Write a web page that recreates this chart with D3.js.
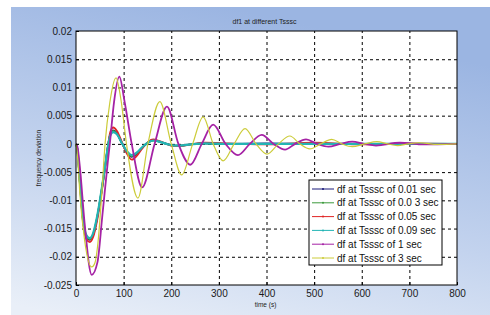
<!DOCTYPE html>
<html>
<head>
<meta charset="utf-8">
<script src="https://cdn.jsdelivr.net/npm/d3@7"></script>
<style>
  body { margin: 0; background: #fff; }
  svg { display: block; font-family: "Liberation Sans", Arial, sans-serif; }
</style>
</head>
<body>
<div class="container"></div>
<script>
// series labels, in legend order
const labels = [
    "df at Tsssc of 0.01 sec",
    "df at Tsssc of 0.0 3 sec",
    "df at Tsssc of 0.05 sec",
    "df at Tsssc of 0.09 sec",
    "df at Tsssc of 1 sec",
    "df at Tsssc of 3 sec"
];

// time samples (s) shared by the four short Tsssc curves
const tSmall = [0, 3, 8, 15, 22, 29, 36, 44, 54, 61, 66, 72, 78, 86, 96, 106, 117, 128, 140, 152, 162, 175, 190, 205, 220, 240, 270, 320, 400, 500, 600, 700, 800];
const vT001 = [0, -0.001, -0.0066, -0.0137, -0.0165, -0.0170, -0.0161, -0.0133, -0.0082, -0.0041, -0.001, 0.0017, 0.0024, 0.0019, 0.0002, -0.0014, -0.0023, -0.0017, -0.0006, 0.0003, 0.0007, 0.0004, 0, -0.0003, -0.0003, -0.0001, 0.0001, 0, 0.0001, 0, 0, 0, 0];
const vT003 = [0, -0.001, -0.0066, -0.0136, -0.0164, -0.0169, -0.0160, -0.0132, -0.0081, -0.0041, -0.001, 0.0016, 0.0023, 0.0018, 0.0002, -0.0013, -0.0022, -0.0016, -0.0006, 0.0003, 0.0006, 0.0004, 0, -0.0003, -0.0003, -0.0001, 0.0001, 0, 0, 0, 0, 0, 0];
const vT005 = [0, -0.001, -0.0068, -0.0140, -0.0169, -0.0174, -0.0165, -0.0137, -0.0085, -0.0043, -0.0011, 0.0021, 0.0029, 0.0023, 0.0004, -0.0016, -0.0028, -0.0021, -0.0007, 0.0004, 0.0008, 0.0005, 0, -0.0004, -0.0004, -0.0001, 0.0002, 0.0001, -0.0001, 0.0002, -0.0001, 0.0001, 0];
const vT009 = [0, -0.001, -0.0065, -0.0135, -0.0162, -0.0167, -0.0158, -0.0130, -0.0080, -0.0040, -0.001, 0.0015, 0.0021, 0.0017, 0.0002, -0.0012, -0.0020, -0.0015, -0.0005, 0.0003, 0.0006, 0.0004, 0, -0.0003, -0.0003, -0.0001, 0.0001, 0, 0, 0, 0, 0, 0];

// Tsssc = 1 sec
const tT1 = [0, 3, 8, 18, 33, 45, 55, 67, 71, 80, 91, 102, 117, 139, 165, 191, 215, 240, 264, 288, 314, 340, 365, 390, 415, 439, 460, 483, 506, 530, 555, 580, 605, 630, 680, 730, 800];
const vT1 = [0, -0.0005, -0.004, -0.014, -0.0232, -0.021, -0.013, -0.003, 0, 0.0075, 0.0119, 0.0075, 0, -0.0077, 0, 0.0066, 0, -0.0037, 0, 0.0034, 0, -0.002, 0, 0.0016, 0, -0.001, 0, 0.0008, 0, -0.0005, 0, 0.0004, 0, -0.0003, 0.0002, -0.0001, 0];

// Tsssc = 3 sec
const tT3 = [0, 4, 8, 18, 33, 40, 46, 54, 61, 71, 84, 95, 106, 130, 151, 176, 200, 222, 245, 267, 288, 309, 332, 355, 378, 401, 425, 449, 470, 491, 514, 537, 558, 580, 606, 632, 654, 675, 698, 720, 760, 800];
const vT3 = [0, -0.003, -0.0087, -0.017, -0.0218, -0.021, -0.0176, -0.009, 0, 0.0073, 0.0117, 0.0075, 0, -0.0096, 0, 0.0075, 0, -0.0055, 0, 0.0048, 0, -0.003, 0, 0.0027, 0, -0.0018, 0, 0.0014, 0, -0.0009, 0, 0.0008, 0, -0.0005, 0, 0.0004, 0, -0.0003, 0, 0.0002, -0.0001, 0];

// axis ticks
const xTicks = [0, 100, 200, 300, 400, 500, 600, 700, 800];
const yTicks = [-0.025, -0.02, -0.015, -0.01, -0.005, 0, 0.005, 0.01, 0.015, 0.02];

const colors = ["#1a1a7a", "#3c9a3c", "#e02424", "#22b4b4", "#a522a5", "#cccc3a"];
const widths = [1.8, 1.8, 1.8, 2.2, 1.8, 1.2];

const series = [
    { t: tSmall, v: vT001 },
    { t: tSmall, v: vT003 },
    { t: tSmall, v: vT005 },
    { t: tSmall, v: vT009 },
    { t: tT1, v: vT1 },
    { t: tT3, v: vT3 }
].map((s, i) => ({ label: labels[i], color: colors[i], width: widths[i], pts: s.t.map((t, j) => [t, s.v[j]]) }));

const w = 490;
const h = 315;
const m = { left: 76, right: 457, top: 31, bottom: 285 };

const svg = d3.select(".container")
    .append("svg")
    .attr("width", w)
    .attr("height", h);

// blue figure panel
const grad = svg.append("defs").append("linearGradient")
    .attr("id", "bg")
    .attr("x1", 0.45).attr("y1", 0)
    .attr("x2", 0.1).attr("y2", 1);
grad.append("stop").attr("offset", "0%").attr("stop-color", "#9bb5e2");
grad.append("stop").attr("offset", "55%").attr("stop-color", "#c3d3ee");
grad.append("stop").attr("offset", "100%").attr("stop-color", "#e9eff8");

svg.append("rect")
    .attr("x", 11).attr("y", 7)
    .attr("width", w - 11).attr("height", h - 7)
    .attr("fill", "url(#bg)");

svg.append("rect")
    .attr("x", m.left).attr("y", m.top)
    .attr("width", m.right - m.left).attr("height", m.bottom - m.top)
    .attr("fill", "#fff");

const x = d3.scaleLinear().domain([0, 800]).range([m.left, m.right]);
const y = d3.scaleLinear().domain([-0.025, 0.02]).range([m.bottom, m.top]);

// dashed grid
svg.append("g")
    .attr("transform", `translate(0, ${m.bottom})`)
    .call(d3.axisBottom(x).tickValues(xTicks.slice(1, -1)).tickSize(-(m.bottom - m.top)).tickFormat(""))
    .call(g => g.select(".domain").remove())
    .selectAll("line")
    .attr("stroke", "#000")
    .attr("stroke-dasharray", "3,3");

svg.append("g")
    .attr("transform", `translate(${m.left}, 0)`)
    .call(d3.axisLeft(y).tickValues(yTicks.slice(1, -1)).tickSize(-(m.right - m.left)).tickFormat(""))
    .call(g => g.select(".domain").remove())
    .selectAll("line")
    .attr("stroke", "#000")
    .attr("stroke-dasharray", "3,3");

// curves
const line = d3.line()
    .x(d => x(d[0]))
    .y(d => y(d[1]))
    .curve(d3.curveMonotoneX);

svg.append("g")
    .selectAll("path")
    .data(series)
    .enter()
    .append("path")
    .attr("d", d => line(d.pts))
    .attr("fill", "none")
    .attr("stroke", d => d.color)
    .attr("stroke-width", d => d.width)
    .attr("stroke-linejoin", "round");

// axes with inward ticks
const xAxis = svg.append("g")
    .attr("transform", `translate(0, ${m.bottom})`)
    .call(d3.axisBottom(x).tickValues(xTicks).tickSize(-3).tickPadding(5).tickFormat(d3.format("d")));

const yAxis = svg.append("g")
    .attr("transform", `translate(${m.left}, 0)`)
    .call(d3.axisLeft(y).tickValues(yTicks).tickSize(-3).tickPadding(4).tickFormat(d => d === 0 ? "0" : String(d)));

[xAxis, yAxis].forEach(g => {
    g.select(".domain").remove();
    g.selectAll("text").attr("font-size", 10).attr("fill", "#1a1a1a").attr("font-family", "Liberation Sans, Arial, sans-serif");
});

svg.append("rect")
    .attr("x", m.left).attr("y", m.top)
    .attr("width", m.right - m.left).attr("height", m.bottom - m.top)
    .attr("fill", "none")
    .attr("stroke", "#000");

// title and axis labels
svg.append("text")
    .attr("x", (m.left + m.right) / 2 - 2).attr("y", 24)
    .attr("text-anchor", "middle")
    .attr("font-size", 7)
    .attr("fill", "#222")
    .text("df1 at different Tsssc");

svg.append("text")
    .attr("x", (m.left + m.right) / 2 - 1).attr("y", 307)
    .attr("text-anchor", "middle")
    .attr("font-size", 6.5)
    .attr("fill", "#222")
    .text("time (s)");

svg.append("text")
    .attr("transform", `translate(41, ${(m.top + m.bottom) / 2}) rotate(-90)`)
    .attr("text-anchor", "middle")
    .attr("font-size", 6.5)
    .attr("fill", "#222")
    .text("frequency deviation");

// legend
const legend = svg.append("g").attr("transform", "translate(309, 180)");
legend.append("rect")
    .attr("width", 133).attr("height", 85)
    .attr("fill", "#fff")
    .attr("stroke", "#000");

const item = legend.selectAll(".item")
    .data(series)
    .enter()
    .append("g")
    .attr("transform", (d, i) => `translate(0, ${9 + i * 13.8})`);

item.append("line")
    .attr("x1", 3).attr("x2", 25)
    .attr("stroke", d => d.color)
    .attr("stroke-width", 1);
item.append("circle")
    .attr("cx", 14).attr("r", 1)
    .attr("fill", d => d.color);
item.append("text")
    .attr("x", 28).attr("dy", "0.35em")
    .attr("font-size", 10)
    .attr("fill", "#111")
    .text(d => d.label);
</script>
</body>
</html>
